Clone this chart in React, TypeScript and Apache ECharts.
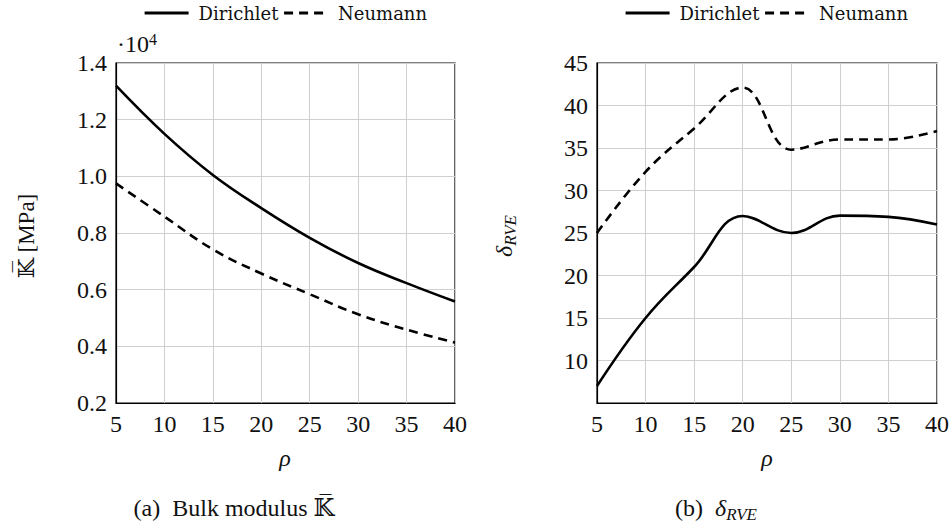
import React, { useEffect, useRef } from "react";
import * as echarts from "echarts";

const rho = [5, 10, 15, 20, 25, 30, 35, 40];
const bulkDirichlet = [13200, 11500, 10050, 8880, 7830, 6940, 6230, 5580];
const bulkNeumann = [9750, 8580, 7420, 6570, 5840, 5130, 4590, 4130];
const deltaDirichlet = [7, 15, 21, 27, 25, 27.05, 26.9, 26];
const deltaNeumann = [25, 32.2, 37.3, 42.1, 34.8, 36, 36, 37];
const seriesNames = ["Dirichlet", "Neumann"];

const SERIF = "'Liberation Serif', 'DejaVu Serif', serif";
const LEG = "'DejaVu Serif', serif";

export default function App() {
  const ref = useRef<HTMLDivElement>(null);
  useEffect(() => {
    document.body.style.margin = "0";
    const chart = echarts.init(ref.current!, null, { renderer: "svg" });
    const pts = (ys: number[]) => rho.map((x, i) => [x, ys[i]]);
    const xAxisBase = (gridIndex: number) => ({
      type: "value",
      gridIndex,
      min: 5,
      max: 40,
      interval: 5,
      axisLine: { show: true, onZero: false, lineStyle: { color: "#000", width: 1.2 } },
      axisTick: { show: false },
      splitLine: { show: true, lineStyle: { color: "#cfcfcf", width: 1 } },
      axisLabel: { color: "#111", fontFamily: SERIF, fontSize: 24, margin: 9 },
    });
    const lineSeries = (name: string, data: number[][], idx: number, dashed: boolean) => ({
      type: "line",
      name,
      xAxisIndex: idx,
      yAxisIndex: idx,
      data,
      smooth: 0.4,
      symbol: "none",
      lineStyle: { color: "#000", width: 2.6, type: dashed ? [9, 6] : "solid" },
      itemStyle: { color: "#000" },
    });
    const legendBase = (left: number) => ({
      left,
      top: 4,
      padding: 0,
      orient: "horizontal",
      itemWidth: 44,
      itemHeight: 16,
      itemGap: 4,
      itemStyle: { opacity: 0 },
      lineStyle: { width: 3.2 },
      data: seriesNames,
      textStyle: { fontFamily: LEG, fontSize: 18, color: "#111", padding: [0, 0, 0, 5] },
    });
    const supRich = {
      a: { fontFamily: SERIF, fontSize: 24, fill: "#111", lineHeight: 26 },
      b: { fontFamily: SERIF, fontSize: 16, fill: "#111", verticalAlign: "top" },
    };
    const axisY = (gridIndex: number, min: number, max: number, interval: number, formatter: (v: number) => string) => ({
      type: "value",
      gridIndex,
      min,
      max,
      interval,
      axisLine: { show: true, lineStyle: { color: "#000", width: 1.2 } },
      axisTick: { show: false },
      splitLine: { show: true, lineStyle: { color: "#cfcfcf", width: 1 } },
      axisLabel: { color: "#111", fontFamily: SERIF, fontSize: 24, margin: 9, formatter },
    });
    chart.setOption({
      animation: false,
      backgroundColor: "#fff",
      grid: [
        { left: 116, top: 63, width: 339, height: 340, show: true, borderColor: "#000", borderWidth: 1.2 },
        { left: 597, top: 63, width: 340, height: 340, show: true, borderColor: "#000", borderWidth: 1.2 },
      ],
      legend: [legendBase(143), legendBase(624)],
      xAxis: [xAxisBase(0), xAxisBase(1)],
      yAxis: [
        axisY(0, 2000, 14000, 2000, (v: number) => (v / 10000).toFixed(1)),
        axisY(1, 5, 45, 5, (v: number) => (v === 5 ? "" : String(v))),
      ],
      series: [
        lineSeries(seriesNames[0], pts(bulkDirichlet), 0, false),
        lineSeries(seriesNames[1], pts(bulkNeumann), 0, true),
        lineSeries(seriesNames[0], pts(deltaDirichlet), 1, false),
        lineSeries(seriesNames[1], pts(deltaNeumann), 1, true),
      ],
      graphic: [
        { type: "text", x: 117, y: 57, style: { text: "{a|·10}{b|4}", rich: supRich, textVerticalAlign: "bottom" } },
        { type: "text", x: 285, y: 458, style: { text: "ρ", fontFamily: SERIF, fontStyle: "italic", fontSize: 24, fill: "#111", textAlign: "center", textVerticalAlign: "middle" } },
        { type: "text", x: 767, y: 458, style: { text: "ρ", fontFamily: SERIF, fontStyle: "italic", fontSize: 24, fill: "#111", textAlign: "center", textVerticalAlign: "middle" } },
        {
          type: "text", x: 26, y: 236, rotation: Math.PI / 2,
          style: { text: "\u{1D542}\u0305 [MPa]", fontFamily: SERIF, fontSize: 23, fill: "#111", textAlign: "center", textVerticalAlign: "middle" },
        },
        {
          type: "text", x: 504, y: 236, rotation: Math.PI / 2,
          style: {
            text: "{d|δ}{s|RVE}", textAlign: "center", textVerticalAlign: "middle",
            rich: {
              d: { fontFamily: SERIF, fontStyle: "italic", fontSize: 24, fill: "#111", lineHeight: 30 },
              s: { fontFamily: SERIF, fontStyle: "italic", fontSize: 17, fill: "#111", verticalAlign: "bottom" },
            },
          },
        },
        { type: "text", x: 234, y: 508, style: { text: "(a)  Bulk modulus \u{1D542}\u0305", fontFamily: SERIF, fontSize: 24, fill: "#111", textAlign: "center", textVerticalAlign: "middle" } },
        {
          type: "text", x: 716, y: 508,
          style: {
            text: "{n|(b)  }{d|δ}{s|RVE}", textAlign: "center", textVerticalAlign: "middle",
            rich: {
              n: { fontFamily: SERIF, fontSize: 24, fill: "#111", lineHeight: 30 },
              d: { fontFamily: SERIF, fontStyle: "italic", fontSize: 24, fill: "#111", lineHeight: 30 },
              s: { fontFamily: SERIF, fontStyle: "italic", fontSize: 17, fill: "#111", verticalAlign: "bottom" },
            },
          },
        },
      ],
    });
    return () => chart.dispose();
  }, []);
  return <div ref={ref} style={{ width: 952, height: 529 }} />;
}
